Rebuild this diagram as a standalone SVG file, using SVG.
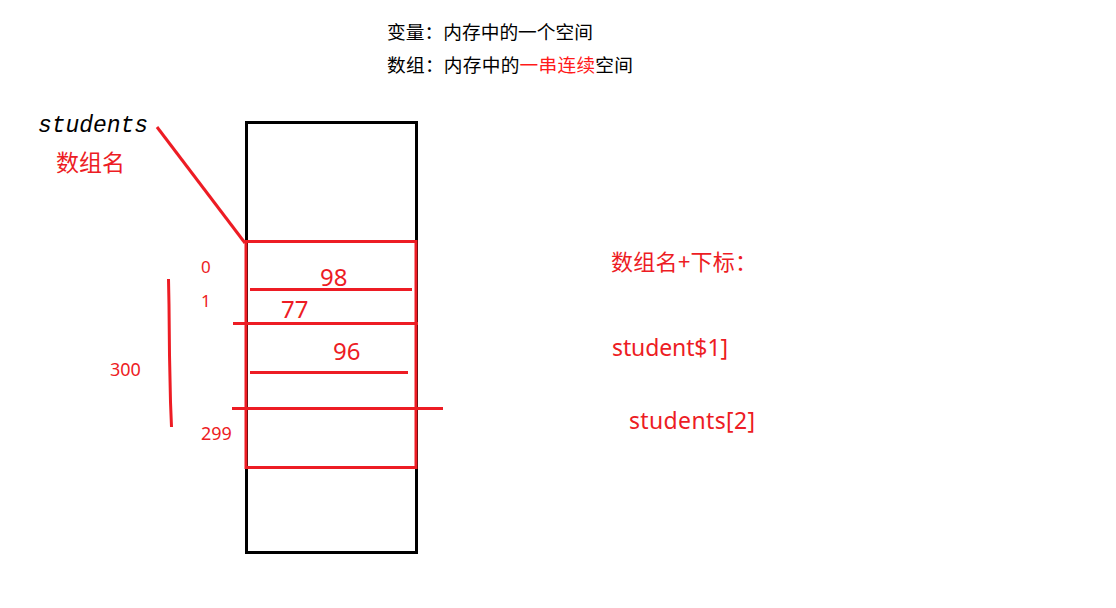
<svg xmlns="http://www.w3.org/2000/svg" width="1116" height="608" viewBox="0 0 1116 608">
<style>
.t{font-family:"Noto Sans CJK SC","Noto Sans",sans-serif;}
.n{font-family:"Noto Sans","Noto Sans CJK SC",sans-serif;fill:#ed1c24;}
.r{fill:#ed1c24;}
.k{fill:#000;}
.rl{stroke:#ed1c24;stroke-width:3;fill:none;}
</style>
<rect width="1116" height="608" fill="#fff"/>
<g id="header">
<text class="t k" x="387" y="39" font-size="18.7" textLength="206">变量：内存中的一个空间</text>
<text class="t k" x="387" y="72" font-size="18.7" textLength="246">数组：内存中的<tspan fill="#ff1a1a">一串连续</tspan>空间</text>
</g>
<g id="memory">
<rect x="246.5" y="122.5" width="170" height="430" fill="none" stroke="#000" stroke-width="3"/>
</g>
<g id="array">
<rect x="246" y="241.5" width="170" height="226" class="rl"/>
</g>
<g id="connectors">
<line x1="250" y1="289.5" x2="412" y2="289.5" class="rl"/>
<line x1="233" y1="323.5" x2="418" y2="323.5" class="rl"/>
<line x1="250" y1="372.5" x2="408" y2="372.5" class="rl"/>
<line x1="232" y1="408.5" x2="443" y2="408.5" class="rl"/>
<polyline points="168.5,279 169,305 169.5,355 170.5,402 171.5,427" class="rl"/>
<line x1="157" y1="127" x2="245" y2="243" class="rl"/>
</g>
<g id="name-label">
<text x="38" y="132" font-family="Liberation Mono, monospace" font-style="italic" font-size="23" textLength="110" class="k">students</text>
<text class="t r" x="56" y="171" font-size="23">数组名</text>
</g>
<g id="indices">
<text class="n" x="201" y="273" font-size="17">0</text>
<text class="n" x="201" y="307" font-size="17">1</text>
<text class="n" x="110" y="376" font-size="18">300</text>
<text class="n" x="201" y="440" font-size="18">299</text>
</g>
<g id="values">
<text class="n" x="320" y="286" font-size="24">98</text>
<text class="n" x="281" y="318" font-size="24">77</text>
<text class="n" x="333" y="360" font-size="24">96</text>
</g>
<g id="access">
<text class="t r" x="611" y="270" font-size="22" textLength="146">数组名+下标：</text>
<text class="n" x="612" y="356" font-size="23" textLength="116">student$1]</text>
<text class="n" x="629" y="429" font-size="23" textLength="126">students[2]</text>
</g>
</svg>
